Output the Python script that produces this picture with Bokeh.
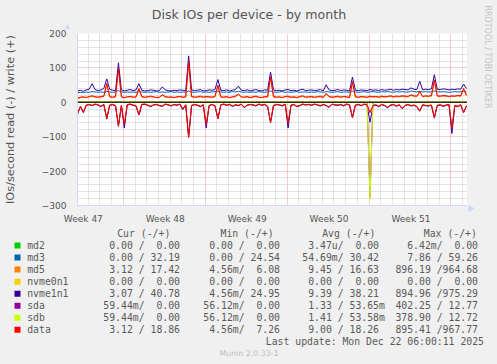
import math
from bokeh.plotting import figure
from bokeh.models import Range1d, FixedTicker, Span
from bokeh.layouts import column, row
from bokeh.core.properties import value
from bokeh.embed import file_html
from bokeh.resources import INLINE

# ---------------- data (one sample every 6 hours, ~33 days) ----------------
STEP_DAYS = 0.25

nvme1n1_write = [
    33, 35, 32, 36, 38, 54, 37, 34, 36, 40, 68, 38, 35, 34, 115, 36, 33, 35, 37, 34,
    36, 54, 35, 33, 34, 36, 35, 33, 34, 45, 36, 34, 33, 35, 34, 36, 35, 33, 135, 36,
    34, 35, 37, 33, 34, 36, 35, 37, 66, 35, 34, 36, 33, 35, 37, 47, 35, 34, 36, 33,
    35, 37, 34, 33, 36, 35, 88, 36, 34, 35, 33, 36, 37, 34, 35, 33, 36, 38, 34, 35,
    36, 34, 35, 37, 33, 51, 36, 34, 35, 37, 34, 36, 35, 33, 73, 35, 34, 36, 35, 34,
    37, 35, 36, 34, 37, 35, 36, 38, 35, 37, 36, 38, 37, 36, 42, 38, 37, 61, 36, 38,
    37, 39, 80, 38, 37, 39, 38, 36, 38, 37, 39, 38, 53, 40]

md3_write = [
    28, 29, 28, 30, 29, 31, 30, 29, 30, 29, 32, 30, 29, 30, 34, 30, 29, 30, 29, 30,
    29, 31, 30, 29, 30, 29, 30, 31, 29, 30, 29, 30, 31, 29, 30, 29, 30, 29, 33, 30,
    29, 30, 31, 29, 30, 29, 30, 31, 32, 30, 29, 30, 29, 31, 30, 32, 30, 29, 30, 29,
    30, 29, 31, 30, 29, 30, 33, 30, 29, 30, 31, 29, 30, 29, 30, 31, 29, 30, 30, 29,
    30, 29, 31, 30, 29, 31, 30, 29, 30, 31, 29, 30, 30, 29, 32, 30, 29, 30, 31, 29,
    30, 31, 30, 29, 31, 30, 31, 30, 29, 31, 30, 31, 30, 29, 33, 31, 30, 32, 30, 31,
    30, 31, 33, 31, 30, 31, 30, 29, 30, 31, 30, 31, 32, 30]

data_write = [
    12, 15, 16, 14, 17, 19, 16, 15, 17, 18, 55, 16, 15, 17, 100, 16, 14, 16, 17, 15,
    16, 40, 17, 15, 16, 18, 16, 14, 15, 22, 17, 15, 16, 14, 16, 17, 15, 16, 120, 17,
    15, 16, 18, 15, 17, 16, 15, 17, 50, 16, 15, 17, 14, 16, 18, 24, 16, 15, 17, 14,
    16, 18, 15, 14, 17, 16, 75, 17, 15, 16, 14, 17, 18, 15, 16, 14, 17, 19, 15, 16,
    17, 15, 16, 18, 14, 26, 17, 15, 16, 18, 15, 17, 16, 14, 60, 16, 15, 17, 16, 15,
    18, 16, 17, 15, 18, 16, 17, 19, 16, 18, 17, 19, 18, 17, 22, 19, 18, 32, 17, 19,
    18, 20, 65, 19, 18, 20, 19, 17, 19, 18, 20, 19, 40, 21]

md5_write = [
    10, 13, 15, 13, 16, 17, 15, 14, 15, 17, 52, 15, 14, 15, 96, 15, 13, 15, 16, 14,
    15, 37, 15, 14, 15, 16, 15, 13, 14, 20, 15, 14, 15, 13, 15, 16, 14, 15, 115, 16,
    14, 15, 16, 14, 15, 15, 14, 16, 47, 15, 14, 15, 13, 15, 16, 22, 15, 14, 15, 13,
    15, 16, 14, 13, 15, 15, 71, 15, 14, 15, 13, 16, 16, 14, 15, 13, 15, 17, 14, 15,
    15, 14, 15, 16, 13, 24, 16, 14, 15, 16, 14, 16, 15, 13, 57, 15, 14, 15, 15, 14,
    16, 15, 16, 14, 16, 15, 16, 17, 15, 16, 16, 17, 16, 16, 20, 17, 16, 30, 16, 17,
    17, 18, 62, 17, 17, 18, 17, 16, 17, 17, 18, 17, 37, 19]

data_read = [
    33, 12, 29, 8, 6, 9, 5, 7, 12, 6, 47, 8, 6, 10, 69, 9, 65, 7, 5, 8,
    10, 36, 6, 5, 8, 12, 7, 6, 9, 11, 5, 7, 10, 6, 8, 5, 20, 7, 101, 9,
    6, 8, 12, 7, 65, 9, 6, 10, 47, 7, 5, 8, 6, 11, 7, 9, 5, 15, 8, 6,
    7, 10, 5, 8, 6, 12, 58, 9, 6, 7, 10, 5, 60, 8, 6, 12, 9, 5, 7, 6,
    8, 5, 7, 10, 6, 9, 14, 5, 7, 8, 6, 10, 5, 7, 44, 8, 6, 9, 5, 7,
    30, 10, 7, 12, 6, 9, 15, 8, 6, 11, 7, 18, 9, 6, 10, 8, 12, 25, 7, 9,
    10, 8, 44, 9, 7, 11, 8, 6, 75, 9, 12, 7, 29, 10]

nvme1n1_read = [
    34, 13, 30, 9, 7, 10, 6, 8, 13, 7, 49, 9, 7, 11, 70, 10, 75, 8, 6, 9,
    11, 37, 7, 6, 9, 13, 8, 7, 10, 12, 6, 8, 11, 7, 9, 6, 21, 8, 102, 10,
    7, 9, 13, 8, 75, 10, 7, 11, 48, 8, 6, 9, 7, 12, 8, 10, 6, 16, 9, 7,
    8, 11, 6, 9, 7, 13, 59, 10, 7, 8, 11, 6, 75, 9, 7, 13, 10, 6, 8, 7,
    9, 6, 8, 11, 7, 10, 15, 6, 8, 9, 7, 11, 6, 8, 45, 9, 7, 10, 6, 8,
    58, 11, 8, 13, 7, 10, 16, 9, 7, 12, 8, 19, 10, 7, 11, 9, 13, 26, 8, 10,
    11, 9, 46, 10, 8, 12, 9, 7, 91, 10, 13, 8, 30, 11]

md5_read = [
    32, 11, 28, 8, 6, 9, 5, 7, 11, 6, 46, 8, 6, 9, 68, 9, 64, 7, 5, 8,
    9, 35, 6, 5, 8, 11, 7, 6, 9, 10, 5, 7, 9, 6, 8, 5, 19, 7, 100, 9,
    6, 8, 11, 7, 64, 9, 6, 9, 46, 7, 5, 8, 6, 10, 7, 9, 5, 14, 8, 6,
    7, 9, 5, 8, 6, 11, 57, 9, 6, 7, 9, 5, 59, 8, 6, 11, 9, 5, 7, 6,
    8, 5, 7, 9, 6, 9, 13, 5, 7, 8, 6, 9, 5, 7, 43, 8, 6, 9, 5, 7,
    29, 9, 7, 11, 6, 9, 14, 8, 6, 10, 7, 17, 9, 6, 9, 8, 11, 24, 7, 9,
    9, 8, 43, 9, 7, 10, 8, 6, 74, 9, 11, 7, 28, 10]

sda_read = [
    0.06, 0.06, 0.06, 0.06, 0.06, 0.06, 0.06, 0.06, 0.06, 0.06, 0.06, 0.06, 0.06, 0.06, 0.06, 0.06, 0.06, 0.06, 0.06, 0.06,
    0.06, 0.06, 0.06, 0.06, 0.06, 0.06, 0.06, 0.06, 0.06, 0.06, 0.06, 0.06, 0.06, 0.06, 0.06, 0.06, 0.06, 0.06, 0.06, 0.06,
    0.06, 0.06, 0.06, 0.06, 0.06, 0.06, 0.06, 0.06, 0.06, 0.06, 0.06, 0.06, 0.06, 0.06, 0.06, 0.06, 0.06, 0.06, 0.06, 0.06,
    0.06, 0.06, 0.06, 0.06, 0.06, 0.06, 0.06, 0.06, 0.06, 0.06, 0.06, 0.06, 0.06, 0.06, 0.06, 0.06, 0.06, 0.06, 0.06, 0.06,
    0.06, 0.06, 0.06, 0.06, 0.06, 0.06, 0.06, 0.06, 0.06, 0.06, 0.06, 0.06, 0.06, 0.06, 0.06, 0.06, 0.06, 0.06, 0.06, 0.06,
    276, 0.06, 0.06, 0.06, 0.06, 0.06, 0.06, 0.06, 0.06, 0.06, 0.06, 0.06, 0.06, 0.06, 0.06, 0.06, 0.06, 0.06, 0.06, 0.06,
    0.06, 0.06, 0.06, 0.06, 0.06, 0.06, 0.06, 0.06, 0.06, 0.06, 0.06, 0.06, 0.06, 0.06]

sdb_read = [
    0.06, 0.06, 0.06, 0.06, 0.06, 0.06, 0.06, 0.06, 0.06, 0.06, 0.06, 0.06, 0.06, 0.06, 0.06, 0.06, 0.06, 0.06, 0.06, 0.06,
    0.06, 0.06, 0.06, 0.06, 0.06, 0.06, 0.06, 0.06, 0.06, 0.06, 0.06, 0.06, 0.06, 0.06, 0.06, 0.06, 0.06, 0.06, 0.06, 0.06,
    0.06, 0.06, 0.06, 0.06, 0.06, 0.06, 0.06, 0.06, 0.06, 0.06, 0.06, 0.06, 0.06, 0.06, 0.06, 0.06, 0.06, 0.06, 0.06, 0.06,
    0.06, 0.06, 0.06, 0.06, 0.06, 0.06, 0.06, 0.06, 0.06, 0.06, 0.06, 0.06, 0.06, 0.06, 0.06, 0.06, 0.06, 0.06, 0.06, 0.06,
    0.06, 0.06, 0.06, 0.06, 0.06, 0.06, 0.06, 0.06, 0.06, 0.06, 0.06, 0.06, 0.06, 0.06, 0.06, 0.06, 0.06, 0.06, 0.06, 0.06,
    282, 0.06, 0.06, 0.06, 0.06, 0.06, 0.06, 0.06, 0.06, 0.06, 0.06, 0.06, 0.06, 0.06, 0.06, 0.06, 0.06, 0.06, 0.06, 0.06,
    0.06, 0.06, 0.06, 0.06, 0.06, 0.06, 0.06, 0.06, 0.06, 0.06, 0.06, 0.06, 0.06, 0.06]

N = len(nvme1n1_write)
zeros = [0.0] * N  # md2, nvme0n1 and the near-zero directions (all 0.00 in the legend)

devices = ["md2", "md3", "md5", "nvme0n1", "nvme1n1", "sda", "sdb", "data"]
colors = ["#00CC00", "#0066B3", "#FF8000", "#FFCC00", "#330099", "#990099", "#CCFF00", "#FF0000"]
reads = [zeros, zeros, md5_read, zeros, nvme1n1_read, sda_read, sdb_read, data_read]
writes = [zeros, md3_write, md5_write, zeros, nvme1n1_write, zeros, zeros, data_write]

cur_txt = ["0.00 /  0.00", "0.00 / 32.19", "3.12 / 17.42", "0.00 /  0.00",
           "3.07 / 40.78", "59.44m/  0.00", "59.44m/  0.00", "3.12 / 18.86"]
min_txt = ["0.00 /  0.00", "0.00 / 24.54", "4.56m/  6.08", "0.00 /  0.00",
           "4.56m/ 24.95", "56.12m/  0.00", "56.12m/  0.00", "4.56m/  7.26"]
avg_txt = ["3.47u/  0.00", "54.69m/ 30.42", "9.45 / 16.63", "0.00 /  0.00",
           "9.39 / 38.21", "1.33 / 53.65m", "1.41 / 53.58m", "9.00 / 18.26"]
max_txt = ["6.42m/  0.00", "7.86 / 59.26", "896.19 /964.68", "0.00 /  0.00",
           "894.96 /975.29", "402.25 / 12.77", "378.90 / 12.72", "895.41 /967.77"]
col_headers = ["Cur (-/+)", "Min (-/+)", "Avg (-/+)", "Max (-/+)"]

week_labels = ["Week 47", "Week 48", "Week 49", "Week 50", "Week 51"]
week_label_days = [0.5, 7.5, 14.5, 21.5, 28.5]
week_grid_days = [3.92, 10.92, 17.92, 24.92, 31.92]
y_major = [-300, -200, -100, 0, 100, 200]

title_text = "Disk IOs per device - by month"
y_label = "IOs/second read (-) / write (+)"
last_update = "Last update: Mon Dec 22 06:00:11 2025"
munin_ver = "Munin 2.0.33-1"
side_text = "RRDTOOL / TOBI OETIKER"

# ---------------- styling ----------------
BG = "#F0F0F0"
FONT = "#555555"
AXIS = "#CFD6F8"
SANS = "DejaVu Sans"
MONO = "DejaVu Sans Mono"
NB = "\u00a0"
HEAD_H = 29


def no_align(fig):
    if "frame_align" in fig.properties():
        fig.frame_align = False


def blank_panel(w, h, x0, y0):
    f = figure(width=w, height=h, x_range=Range1d(x0, x0 + w), y_range=Range1d(y0 + h, y0),
               output_backend="svg", toolbar_location=None, min_border=0,
               x_axis_location=None, y_axis_location=None,
               background_fill_color=BG, border_fill_color=BG, outline_line_color=None)
    f.title.visible = False
    f.grid.visible = False
    no_align(f)
    return f


t_days = [i * STEP_DAYS for i in range(N)]
X_END = 400 / 12.0  # 400 px frame, 12 px per day

# ---------------- main chart ----------------
p = figure(width=467, height=226 - HEAD_H, x_range=Range1d(0, X_END), y_range=Range1d(-300, 200),
           output_backend="svg", toolbar_location=None,
           min_border_left=67, min_border_right=0, min_border_top=33 - HEAD_H, min_border_bottom=18,
           background_fill_color="white", border_fill_color=BG, outline_line_color=None)
p.title.visible = False
no_align(p)

day_minor = [0.92 + k for k in range(33) if all(abs(0.92 + k - w) > 0.1 for w in week_grid_days)]
y_minor = [v for v in range(-280, 200, 20) if v % 100 != 0]
xg = p.xgrid[0]
xg.ticker = FixedTicker(ticks=week_grid_days, minor_ticks=day_minor)
yg = p.ygrid[0]
yg.ticker = FixedTicker(ticks=y_major, minor_ticks=y_minor)
for g in (xg, yg):
    g.grid_line_color = "#EB9A9A"
    g.grid_line_dash = "1 1"
    g.minor_grid_line_color = "#C8C8C8"
    g.minor_grid_line_dash = "1 1"

xa = p.xaxis[0]
xa.ticker = FixedTicker(ticks=week_label_days, minor_ticks=[])
xa.major_label_overrides = {d: s for d, s in zip(week_label_days, week_labels)}
ya = p.yaxis[0]
ya.ticker = FixedTicker(ticks=y_major, minor_ticks=[])
ya.axis_label = y_label
ya.axis_label_standoff = 22
ya.axis_label_text_font = SANS
ya.axis_label_text_font_size = "11.3px"
ya.axis_label_text_font_style = "normal"
ya.axis_label_text_color = FONT
for ax in (xa, ya):
    ax.axis_line_color = AXIS
    ax.major_tick_line_color = None
    ax.minor_tick_line_color = None
    ax.major_label_text_font = SANS
    ax.major_label_text_font_size = "9px"
    ax.major_label_text_color = FONT
xa.major_label_standoff = 2
ya.major_label_standoff = 5

for c, rd, wr in zip(colors, reads, writes):
    p.line(t_days, [-v for v in rd], line_color=c, line_width=1)
    p.line(t_days, wr, line_color=c, line_width=1)

p.add_layout(Span(location=0, dimension="width", line_color="black", line_width=1))

# ---------------- header (title + y-axis arrow) ----------------
head = blank_panel(467, HEAD_H, 0, 0)
head.text(x=[248.5], y=[14], text=[title_text], text_font=value(SANS),
          text_font_size=value("12.6px"), text_color=FONT, text_align="center", text_baseline="middle")
head.scatter(x=[67], y=[28], marker="triangle", size=6, fill_color=AXIS, line_color=AXIS)

# ---------------- right strip (rrdtool credit + x-axis arrow) ----------------
side = blank_panel(30, 226, 467, 0)
side.text(x=[487], y=[5], text=[side_text], angle=-math.pi / 2, text_font=value(SANS),
          text_font_size=value("8px"), text_color="#C4C4C4", text_align="left", text_baseline="middle")
side.scatter(x=[470], y=[208], marker="triangle", angle=-math.pi / 2, size=6,
             fill_color=AXIS, line_color=AXIS)

# ---------------- legend panel ----------------
leg = blank_panel(497, 138, 0, 0)
ROW0, ROWH = 19.0, 12.05
row_y = [ROW0 + ROWH * k for k in range(len(devices))]
CW = 5.9
FS = value("9.8px")
LEG_FONT = "#5A5A5A"
leg.rect(x=[17] * len(devices), y=row_y, width=6, height=6, fill_color=colors, line_color=None)
leg.text(x=[26.7] * len(devices), y=row_y, text=devices, text_font=value(MONO),
         text_font_size=FS, text_color=LEG_FONT, text_align="left", text_baseline="middle")

header_x = [116.7, 220.0, 321.7, 423.3]
leg.text(x=header_x, y=[ROW0 - ROWH] * 4, text=[h.replace(" ", NB) for h in col_headers],
         text_font=value(MONO), text_font_size=FS, text_color=LEG_FONT,
         text_align="left", text_baseline="middle")

col_right = [179.5, 279.5, 378.5, 477.5]
for edge, cells in zip(col_right, [cur_txt, min_txt, avg_txt, max_txt]):
    xs = [edge + (CW if s.endswith("m") else 0) for s in cells]
    leg.text(x=xs, y=row_y, text=[s.replace(" ", NB) for s in cells], text_font=value(MONO),
             text_font_size=FS, text_color=LEG_FONT, text_align="right", text_baseline="middle")

leg.text(x=[483.5], y=[ROW0 + ROWH * 8 - 0.3], text=[last_update.replace(" ", NB)],
         text_font=value(MONO), text_font_size=FS, text_color=LEG_FONT,
         text_align="right", text_baseline="middle")
leg.text(x=[248.5], y=[127.3], text=[munin_ver], text_font=value(SANS),
         text_font_size=value("7.8px"), text_color="#BBBBBB", text_align="center", text_baseline="middle")

layout = column(row(column(head, p, spacing=0), side, spacing=0), leg, spacing=0)

template = """
{% block postamble %}
<style>
html, body { margin: 0 !important; padding: 0 !important; background: #F0F0F0; overflow: hidden; }
</style>
{% endblock %}
"""
open("out.html", "w").write(file_html(layout, INLINE, template=template))
